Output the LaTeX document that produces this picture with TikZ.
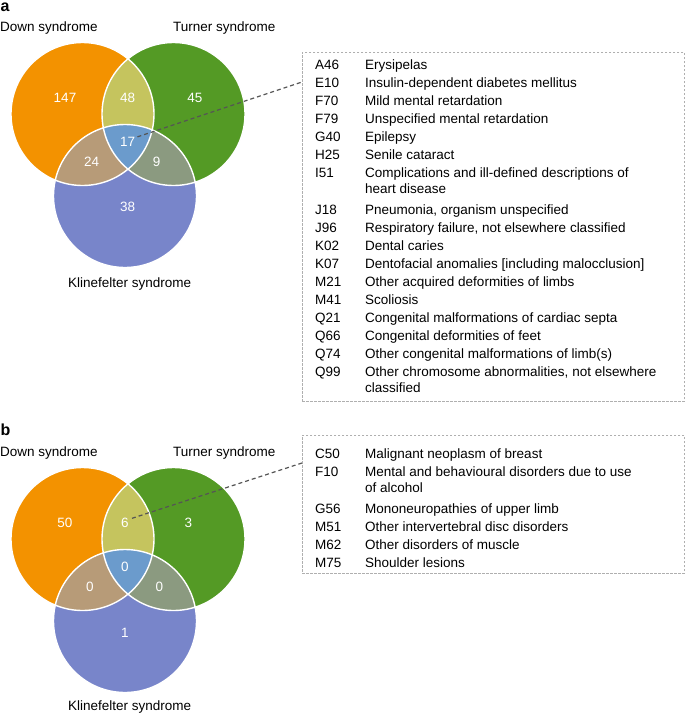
\documentclass[tikz,border=0pt]{standalone}
\usepackage{fontspec}
\setmainfont{Liberation Sans}
\usetikzlibrary{positioning,calc}
\definecolor{downfill}{RGB}{243,146,0}
\definecolor{turnerfill}{RGB}{84,154,37}
\definecolor{klinefill}{RGB}{120,133,202}
\definecolor{dtfill}{RGB}{197,196,94}
\definecolor{dkfill}{RGB}{183,155,120}
\definecolor{tkfill}{RGB}{139,154,128}
\definecolor{allfill}{RGB}{107,155,204}
\definecolor{leadergray}{RGB}{85,85,85}
\definecolor{boxgray}{RGB}{175,175,175}
\newcommand{\vennr}{71.5pt}
% three overlapping disks round (down#1), (turner#1), (kline#1)
\newcommand{\venndisks}[1]{%
  \fill[downfill] (down#1) circle[radius=\vennr];
  \fill[turnerfill] (turner#1) circle[radius=\vennr];
  \fill[klinefill] (kline#1) circle[radius=\vennr];
  \begin{scope}
    \clip (down#1) circle[radius=\vennr];
    \fill[dtfill] (turner#1) circle[radius=\vennr];
    \fill[dkfill] (kline#1) circle[radius=\vennr];
  \end{scope}
  \begin{scope}
    \clip (turner#1) circle[radius=\vennr];
    \fill[tkfill] (kline#1) circle[radius=\vennr];
    \clip (down#1) circle[radius=\vennr];
    \fill[allfill] (kline#1) circle[radius=\vennr];
  \end{scope}
  \draw[white, line width=1.4pt] (down#1) circle[radius=\vennr]
    (turner#1) circle[radius=\vennr] (kline#1) circle[radius=\vennr];
}

\begin{document}
\begin{tikzpicture}[x=1pt, y=-1pt,
  every node/.style={inner sep=0pt, font=\fontsize{13.5}{18}\selectfont},
  setname/.style={anchor=base west},
  count/.style={text=white},
  panel/.style={anchor=base west, font=\fontsize{16}{19}\selectfont\bfseries},
  listbox/.style={draw=boxgray, line width=0.8pt, dash pattern=on 2.5pt off 1.5pt, minimum width=382pt, anchor=north west},
  codelist/.style={anchor=base west, align=left},
  leader/.style={draw=leadergray, line width=1.2pt, dash pattern=on 4pt off 3pt}
]
\useasboundingbox (0,0) rectangle (685,713);

% panel a
\coordinate (downa) at (82.5,114);
\coordinate (turnera) at (173.5,114);
\coordinate (klinea) at (125,196);
\venndisks{a}
\node[panel] (taga) at (0.5,11) {a};
\node[setname] (downnamea) at (0,31) {Down syndrome};
\node[setname] (turnernamea) at (173,31) {Turner syndrome};
\node[setname] (klinenamea) at (68,287) {Klinefelter syndrome};
\node[count] (a147) at (65,97.7) {147};
\node[count] (a48) at (127.7,97.7) {48};
\node[count] (a45) at (195,97.7) {45};
\node[count] (a17) at (127.7,141.7) {17};
\node[count] (a24) at (91.7,161.7) {24};
\node[count] (a9) at (156.7,161.7) {9};
\node[count] (a38) at (127.7,207.3) {38};

\node[listbox, minimum height=349pt] (boxa) at (302,52) {};
\node[codelist] (lista) at (315,69) {\begin{tabular}[t]{@{}p{50pt}@{}l@{}}
A46 & Erysipelas\\
E10 & Insulin-dependent diabetes mellitus\\
F70 & Mild mental retardation\\
F79 & Unspecified mental retardation\\
G40 & Epilepsy\\
H25 & Senile cataract\\
I51 & Complications and ill-defined descriptions of\\[-2pt]
    & heart disease\\[3pt]
J18 & Pneumonia, organism unspecified\\
J96 & Respiratory failure, not elsewhere classified\\
K02 & Dental caries\\
K07 & Dentofacial anomalies [including malocclusion]\\
M21 & Other acquired deformities of limbs\\
M41 & Scoliosis\\
Q21 & Congenital malformations of cardiac septa\\
Q66 & Congenital deformities of feet\\
Q74 & Other congenital malformations of limb(s)\\
Q99 & Other chromosome abnormalities, not elsewhere\\[-2pt]
    & classified
\end{tabular}};
\coordinate (tipa) at ($(boxa.north west)+(0,30)$);
\draw[leader] ([xshift=2pt]a17.north east) -- (tipa);

% panel b
\begin{scope}[shift={(0,425)}]
\coordinate (downb) at (82.5,114);
\coordinate (turnerb) at (173.5,114);
\coordinate (klineb) at (125,196);
\venndisks{b}
\node[panel] (tagb) at (0.5,10.5) {b};
\node[setname] (downnameb) at (0,31) {Down syndrome};
\node[setname] (turnernameb) at (173,31) {Turner syndrome};
\node[setname] (klinenameb) at (68,285) {Klinefelter syndrome};
\node[count] (b50) at (65,98.3) {50};
\node[count] (b6) at (125,98.3) {6};
\node[count] (b3) at (188.3,98.3) {3};
\node[count] (b0mid) at (125,141.7) {0};
\node[count] (b0left) at (90,161.7) {0};
\node[count] (b0right) at (159.3,161.7) {0};
\node[count] (b1) at (125,207.7) {1};
\end{scope}

\node[listbox, minimum height=138pt] (boxb) at (302,435) {};
\node[codelist] (listb) at (315,458) {\begin{tabular}[t]{@{}p{50pt}@{}l@{}}
C50 & Malignant neoplasm of breast\\
F10 & Mental and behavioural disorders due to use\\[-2pt]
    & of alcohol\\[3pt]
G56 & Mononeuropathies of upper limb\\
M51 & Other intervertebral disc disorders\\
M62 & Other disorders of muscle\\
M75 & Shoulder lesions
\end{tabular}};
\coordinate (tipb) at ($(boxb.north west)+(0,28)$);
\draw[leader] ([xshift=3pt]b6.north east) -- (tipb);
\end{tikzpicture}
\end{document}
